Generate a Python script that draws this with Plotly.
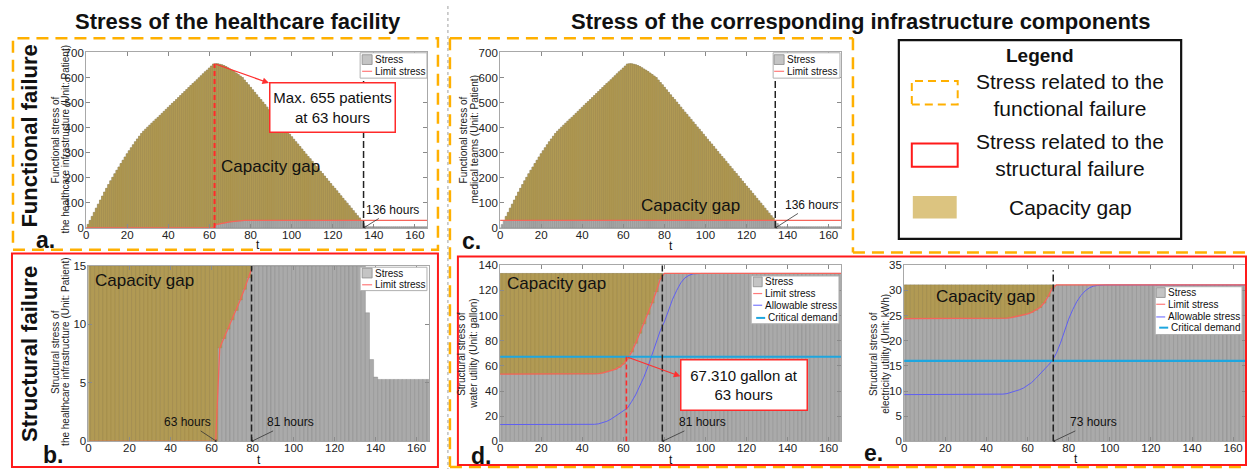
import plotly.graph_objects as go

W, H = 1247, 475
FONT = "Arial, Liberation Sans, sans-serif"

# ---------------- data ----------------
# functional panels (a, c): hourly
hours_f = list(range(0, 167))  # 0 .. 166
stress_functional = [
    0, 14, 30, 46, 62, 79, 95, 111, 127, 143, 158, 173, 188, 202, 216, 230, 243, 257, 270, 283,
    296, 308, 320, 332, 344, 355, 366, 377, 386, 394, 402, 410, 418, 426, 434, 441, 449, 457, 465, 473,
    481, 489, 497, 504, 512, 520, 528, 536, 544, 552, 560, 568, 576, 583, 591, 599, 607, 615, 623, 630,
    638, 646, 654, 655, 655, 653, 651, 648, 644, 639, 634, 629, 624, 618, 612, 606, 600, 590, 580, 571,
    561, 551, 541, 531, 521, 512, 502, 492, 482, 472, 462, 453, 443, 433, 423, 413, 403, 394, 384, 374,
    364, 354, 344, 335, 325, 315, 305, 295, 285, 276, 266, 256, 246, 236, 226, 217, 207, 197, 187, 177,
    167, 158, 148, 138, 128, 118, 108, 99, 89, 79, 69, 59, 49, 40, 30, 18, 8] + [5] * 30
limit_a = ([0.0] * 63 + [13, 15, 16.5, 18, 19.5, 21, 22.5, 24, 25.3, 26.5, 27.5, 28.5, 29, 29.5, 29.8]
           + [30.0] * 89)
limit_c = [30.0] * 167

# structural panels (b, d, e): 2-hour resolution
hours = list(range(0, 168, 2))  # 0 .. 166
stress_b = [15.0] * 68 + [11.0, 7.0, 5.5] + [5.3] * 13
limit_b = [0.0] * 32 + [8.0, 8.8, 9.6, 10.4, 11.2, 12.1, 13.0, 14.0, 15.0] + [None] * 43

stress_d = [133.5] * 84
limit_d = ([53.5] * 23 + [53.6, 53.9, 54.4, 55.2, 56.2, 57.3, 59.0, 61.5, 65.5, 71.0, 78.0, 86.0,
                          93.5, 101.0, 110.0, 119.0, 129.0] + [133.5] * 44)
allow_d = ([13.4] * 23 + [13.6, 14.0, 14.8, 16.0, 17.7, 19.8, 22.0, 24.0, 26.5, 31.5, 37.0, 44.0, 51.0,
                          59.5, 69.0, 78.0, 88.0, 95.0, 104.0, 113.0, 120.0, 126.0, 130.0, 132.0, 133.2]
           + [133.5] * 36)
crit_d = 67.31

stress_e = [31.1] * 84
limit_e = ([24.4] * 24 + [24.45, 24.5, 24.6, 24.75, 24.9, 25.1, 25.35, 25.65, 26.05, 26.6, 27.5, 28.8, 30.4]
           + [31.1] * 47)
allow_e = ([9.3] * 23 + [9.35, 9.4, 9.5, 9.7, 9.95, 10.25, 10.6, 11.1, 11.7, 12.5, 13.3, 14.2, 15.1, 16.0,
                         17.5, 19.5, 22.0, 24.3, 26.2, 27.8, 29.0, 29.9, 30.5, 30.85, 31.0] + [31.1] * 36)
crit_e = 16.0

# event times / annotated values
t_peak_a, peak_a = 62.5, 655
t_end_a, t_end_c = 135, 134
t_fail_b, t_start_b = 79.5, 62.5
t_crit_d, t_fail_d = 61.5, 79
t_fail_e = 72.5

# ---------------- helpers ----------------
def px(x):
    return x / W


def py(y):
    return 1 - y / H


GRAY = "#aaaaaa"
GRAY_EDGE = "#808080"
TAN = "#b19a54"
TAN_EDGE = "#a08945"
RED_LINE = "#f6645a"
BLUE_LINE = "#5f5ff2"
CYAN_LINE = "#1ea6df"

fig = go.Figure()


def gap_of(stress, limit):
    base, height = [], []
    for s, l in zip(stress, limit):
        if l is not None and s > l:
            base.append(l)
            height.append(s - l)
        else:
            base.append(0)
            height.append(None)
    return base, height


def add_panel(k, tx, stress, limit, bw, allow=None, crit=None):
    xa = "x" if k == 1 else f"x{k}"
    ya = "y" if k == 1 else f"y{k}"
    fig.add_bar(x=tx, y=stress, width=bw, xaxis=xa, yaxis=ya,
                marker=dict(color=GRAY, line=dict(color=GRAY_EDGE, width=0.4)), showlegend=False)
    base, height = gap_of(stress, limit)
    fig.add_bar(x=tx, y=height, base=base, width=bw, xaxis=xa, yaxis=ya,
                marker=dict(color=TAN, line=dict(color=TAN_EDGE, width=0.4)), showlegend=False)
    if allow is not None:
        fig.add_scatter(x=tx, y=allow, mode="lines", xaxis=xa, yaxis=ya,
                        line=dict(color=BLUE_LINE, width=1), showlegend=False)
    fig.add_scatter(x=tx, y=limit, mode="lines", xaxis=xa, yaxis=ya,
                    line=dict(color=RED_LINE, width=1.3), showlegend=False, connectgaps=False)
    if crit is not None:
        fig.add_scatter(x=tx, y=[crit] * len(tx), mode="lines", xaxis=xa, yaxis=ya,
                        line=dict(color=CYAN_LINE, width=2.2), showlegend=False)


# panels: 1=a, 2=c, 3=b, 4=d, 5=e
add_panel(1, hours_f, stress_functional, limit_a, 1)
add_panel(2, hours_f, stress_functional, limit_c, 1)
add_panel(3, hours, stress_b, limit_b, 2)
add_panel(4, hours, stress_d, limit_d, 2, allow_d, crit_d)
add_panel(5, hours, stress_e, limit_e, 2, allow_e, crit_e)

geom = {
    1: dict(x=(83.3, 425.3), y=(47.7, 227.7), yr=[0, 700], dt=100),
    2: dict(x=(498.3, 840.0), y=(47.7, 227.7), yr=[0, 700], dt=100),
    3: dict(x=(85.7, 427.0), y=(266.7, 446.7), yr=[0, 15], dt=5),
    4: dict(x=(498.3, 840.0), y=(266.0, 446.7), yr=[0, 140], dt=20),
    5: dict(x=(903.3, 1245.5), y=(266.0, 446.7), yr=[0, 35], dt=5),
}

layout_axes = {}
for k, g in geom.items():
    sx = "" if k == 1 else str(k)
    common = dict(showline=True, linecolor="#a8a8a8", linewidth=1, mirror="ticks",
                  ticks="inside", ticklen=4, tickcolor="#8a8a8a", showgrid=False, zeroline=False,
                  tickfont=dict(family=FONT, size=11.5, color="#222222"))
    layout_axes["xaxis" + sx] = dict(domain=[px(g["x"][0]), px(g["x"][1])], range=[0, 166],
                                     tickvals=[0, 20, 40, 60, 80, 100, 120, 140, 160],
                                     ticklabelstandoff=-4, anchor="y" + sx, **common)
    layout_axes["yaxis" + sx] = dict(domain=[py(g["y"][1]), py(g["y"][0])], range=g["yr"],
                                     dtick=g["dt"], tick0=0, anchor="x" + sx, ticklabelstandoff=-1, **common)

shapes = []
annotations = []


def text(x, y, s, size, bold=False, angle=0, xanchor="center", color="#111111"):
    annotations.append(dict(x=px(x), y=py(y), xref="paper", yref="paper", text=(f"<b>{s}</b>" if bold else s),
                            showarrow=False, textangle=angle, xanchor=xanchor, yanchor="middle",
                            font=dict(family=FONT, size=size, color=color)))


def rect(x0, y0, x1, y1, color, width=1, dash=None, fill=None):
    shapes.append(dict(type="rect", xref="paper", yref="paper", x0=px(x0), x1=px(x1), y0=py(y1), y1=py(y0),
                       line=dict(color=color, width=width, dash=dash), fillcolor=fill, layer="above"))


def hline(x0, x1, y, color, width=1, dash=None):
    shapes.append(dict(type="line", xref="paper", yref="paper", x0=px(x0), x1=px(x1), y0=py(y), y1=py(y),
                       line=dict(color=color, width=width, dash=dash), layer="above"))


def vline_px(x, y0, y1, color, width=1, dash=None):
    shapes.append(dict(type="line", xref="paper", yref="paper", x0=px(x), x1=px(x), y0=py(y0), y1=py(y1),
                       line=dict(color=color, width=width, dash=dash), layer="above"))


def vline_data(k, t, y0, y1, color, width, dash):
    sx = "" if k == 1 else str(k)
    shapes.append(dict(type="line", xref="x" + sx, yref="y" + sx, x0=t, x1=t, y0=y0, y1=y1,
                       line=dict(color=color, width=width, dash=dash), layer="above"))


def hours_note(k, t, s, ax, ay):
    sx = "" if k == 1 else str(k)
    annotations.append(dict(x=t, y=0, xref="x" + sx, yref="y" + sx, text=s, showarrow=True, ax=ax, ay=ay,
                            arrowhead=1, arrowsize=0.7, arrowwidth=0.8, arrowcolor="#333333",
                            font=dict(family=FONT, size=12, color="#111111")))


def red_arrow(k, x, y, tx, ty):
    sx = "" if k == 1 else str(k)
    annotations.append(dict(x=x, y=y, xref="x" + sx, yref="y" + sx, ax=tx, ay=ty, axref="x" + sx,
                            ayref="y" + sx, text="", showarrow=True, arrowhead=2, arrowsize=1.1,
                            arrowwidth=1.2, arrowcolor="#ff3030"))


def red_box(cx, cy, w, h, s):
    annotations.append(dict(x=px(cx), y=py(cy), xref="paper", yref="paper", text=s, showarrow=False,
                            xanchor="center", yanchor="middle",
                            width=w, height=h, borderpad=2, bordercolor="#ff2a2a", borderwidth=1.5,
                            bgcolor="white", align="center",
                            font=dict(family=FONT, size=15, color="#111111")))


def mini_legend(box, rows, sw, tx, entries):
    rect(*box, color="#b0b0b0", width=1, fill="white")
    for (kind, color, label), yy in zip(entries, rows):
        if kind == "bar":
            rect(sw[0], yy - 5, sw[1], yy + 5, color="#8a8a8a", width=0.8, fill=color)
            text(tx, yy, label, 10, xanchor="left")
        else:
            lw = 2 if kind == "thick" else 1.2
            off = 3 if kind == "thick" else 0
            hline(sw[0] + off, sw[1] + off, yy, color, width=lw)
            text(tx + off, yy, label, 10, xanchor="left")


# ---------------- dashed event lines ----------------
vline_data(1, t_peak_a, 0, peak_a, "#ff2a2a", 2, "5px,3px")
vline_data(1, t_end_a, 0, 590, "#222222", 1.5, "7px,3px")
vline_data(2, t_end_c, 0, 590, "#222222", 1.5, "7px,3px")
vline_data(3, t_fail_b, 0, 15, "#222222", 1.5, "7px,3px")
vline_data(4, t_crit_d, 0, crit_d, "#ff2a2a", 1.6, "5px,3px")
vline_data(4, t_fail_d, 0, 140, "#222222", 1.5, "7px,3px")
vline_data(5, t_fail_e, 0, 34, "#222222", 1.5, "7px,3px")

# ---------------- hour notes ----------------
hours_note(1, t_end_a, "136 hours", 29, -18)
hours_note(2, t_end_c, "136 hours", 36, -23)
hours_note(3, t_start_b, "63 hours", -29, -19)
hours_note(3, t_fail_b, "81 hours", 39, -19)
hours_note(4, t_fail_d, "81 hours", 40, -19)
hours_note(5, t_fail_e, "73 hours", 40, -19)

# red call-out arrows + boxes
red_arrow(1, 89.0, 578, t_peak_a, peak_a)
red_arrow(4, 87.8, 51.7, t_crit_d, crit_d)
red_box(330, 104, 120, 44, "Max. 655 patients<br>at 63 hours")
red_box(742.5, 388.5, 121, 45, "67.310 gallon at<br>63 hours")

# capacity gap labels
for (x, y) in [(268, 165), (689, 205), (142, 282), (555, 285), (985, 298)]:
    text(x, y, "Capacity gap", 17)

# axis titles
for (x, y) in [(256, 245), (670, 246), (257, 466), (670, 466), (1076, 465)]:
    text(x, y, "t", 12)
ytitles = [
    (53, 63, 137, "Functional stress of", "the healthcare infrastructure (Unit: Patient)"),
    (462, 473, 137, "Functional stress of", "medical teams (Unit: Patient)"),
    (52, 62, 355, "Structural stress of", "the healthcare infrastructure (Unit: Patient)"),
    (460, 472, 357, "Structural stress of", "water utility (Unit: gallon)"),
    (873, 885, 357, "Structural stress of", "electricity utility (Unit: kWh)"),
]
for x1, x2, y, l1, l2 in ytitles:
    text(x1, y, l1, 10, angle=-90, color="#222222")
    text(x2, y, l2, 10, angle=-90, color="#222222")

# mini legends
two = [("bar", "#c4c4c4", "Stress"), ("line", "#ff7a7a", "Limit stress")]
four = two + [("line", "#7a7aff", "Allowable stress"), ("thick", CYAN_LINE, "Critical demand")]
mini_legend((358, 48, 425, 74), [55, 67], (360, 370), 371, two)
mini_legend((772, 48, 839, 74), [55, 67], (773, 783), 784, two)
mini_legend((358, 268, 425, 292), [274, 286], (360, 370), 371, two)
mini_legend((750, 277, 838, 326), [283, 295, 307, 320], (752, 761), 762, four)
mini_legend((1155, 288, 1242, 337), [294, 306, 319, 330], (1156, 1165), 1166, four)

# titles & side labels
text(236, 16, "Stress of the healthcare facility", 22, bold=True)
text(860, 16, "Stress of the corresponding infrastructure components", 22, bold=True)
text(27, 133, "Functional failure", 22, bold=True, angle=-90)
text(27, 357, "Structural failure", 22, bold=True, angle=-90)
for (x, y, s) in [(43, 240, "a."), (50, 461, "b."), (470, 241, "c."), (479, 462, "d."), (873, 459, "e.")]:
    text(x, y, s, 23, bold=True)

# frames
ORANGE = "#ffb000"
rect(10, 33, 436, 250, ORANGE, width=2.5, dash="12px,7px")
hline(448, 852, 33, ORANGE, 2.5, "12px,7px")
vline_px(852, 33, 253, ORANGE, 2.5, "12px,7px")
hline(852, 1247, 253, ORANGE, 2.5, "12px,7px")
vline_px(448, 33, 473, ORANGE, 2.5, "12px,7px")
hline(448, 1247, 473, ORANGE, 2.5, "12px,7px")
rect(9, 254, 436, 473, "#ff1a1a", width=2)
rect(456, 257, 1246, 471, "#ff1a1a", width=2)
vline_px(446, 0, 475, "#a0a0a0", 1, "dot")

# main legend
rect(898, 35, 1181, 239, "#111111", width=2.2)
text(1040, 51, "Legend", 19, bold=True)
rect(911, 77, 957, 101, ORANGE, width=2, dash="8px,5px")
text(1070, 91, "Stress related to the<br>functional failure", 21)
rect(911, 141, 957, 165, "#ff1a1a", width=2)
text(1070, 153, "Stress related to the<br>structural failure", 21)
rect(912, 195, 956, 218, "#dcc480", width=0, fill="#dcc480")
text(1070, 207, "Capacity gap", 21)

fig.update_layout(width=W, height=H, margin=dict(l=0, r=0, t=0, b=0), paper_bgcolor="white",
                  plot_bgcolor="white", barmode="overlay", showlegend=False,
                  shapes=shapes, annotations=annotations, font=dict(family=FONT), **layout_axes)

fig.write_html("out.html", config={"displayModeBar": False},
               post_script="document.body.style.margin='0px';document.body.style.overflow='hidden';")
